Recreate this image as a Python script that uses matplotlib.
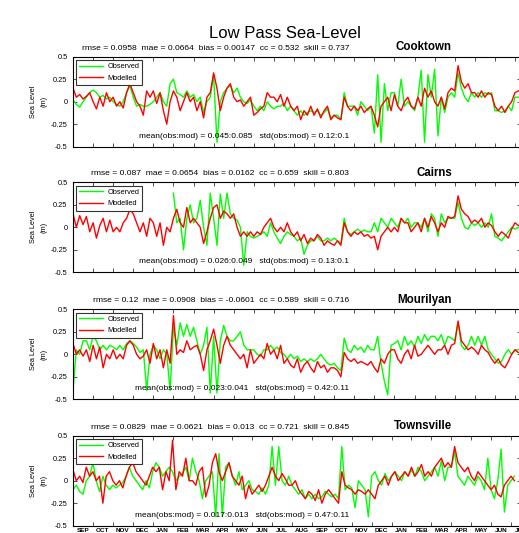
import numpy as np
import matplotlib
matplotlib.use('Agg')
import matplotlib.pyplot as plt

plt.rcParams['font.family'] = ['Liberation Sans', 'DejaVu Sans']

# month labels along the bottom axis (Sep of year 1 to Jul of year 2)
months = ['SEP', 'OCT', 'NOV', 'DEC', 'JAN', 'FEB', 'MAR', 'APR', 'MAY', 'JUN', 'JUL', 'AUG',
          'SEP', 'OCT', 'NOV', 'DEC', 'JAN', 'FEB', 'MAR', 'APR', 'MAY', 'JUN', 'JUL']
per_month = 6  # samples per month (~5 day spacing)

stations = ['Cooktown', 'Cairns', 'Mourilyan', 'Townsville']
stats = ['rmse = 0.0958  mae = 0.0664  bias = 0.00147  cc = 0.532  skill = 0.737',
         'rmse = 0.087  mae = 0.0654  bias = 0.0162  cc = 0.659  skill = 0.803',
         'rmse = 0.12  mae = 0.0908  bias = -0.0601  cc = 0.589  skill = 0.716',
         'rmse = 0.0829  mae = 0.0621  bias = 0.013  cc = 0.721  skill = 0.845']
means = ['mean(obs:mod) = 0.045:0.085   std(obs:mod) = 0.12:0.1',
         'mean(obs:mod) = 0.026:0.049   std(obs:mod) = 0.13:0.1',
         'mean(obs:mod) = 0.023:0.041   std(obs:mod) = 0.42:0.11',
         'mean(obs:mod) = 0.017:0.013   std(obs:mod) = 0.47:0.11']

nan = np.nan

cooktown_obs = [0.02, -0.03, -0.06, 0.0, 0.05, 0.1,
                0.13, 0.1, 0.05, 0.07, 0.03, 0.05,
                0.0, -0.03, -0.05, 0.0, 0.1, 0.18,
                0.05, -0.05, -0.03, -0.05, -0.05, -0.03,
                0.0, 0.05, 0.1, 0.0, -0.05, 0.2,
                0.25, 0.1, 0.08, 0.05, 0.12, 0.05,
                0.08, 0.0, 0.05, -0.12, 0.0, 0.05,
                0.3, -0.45, 0.0, 0.1, 0.15, 0.18,
                0.1, 0.15, 0.05, 0.0, -0.02, 0.02,
                -0.05, -0.1, -0.05, -0.1, 0.0, -0.05,
                -0.08, -0.05, -0.05, -0.02, -0.1, -0.05,
                -0.1, -0.15, -0.1, -0.15, -0.12, -0.1,
                -0.12, -0.1, -0.15, -0.12, -0.08, -0.18,
                -0.15, -0.15, -0.2, 0.1, -0.05, -0.05,
                -0.05, -0.15, 0.0, -0.05, -0.1, -0.05,
                -0.35, 0.3, -0.45, 0.2, -0.1, 0.1,
                0.1, -0.05, 0.25, -0.05, 0.0, -0.05,
                -0.1, 0.05, 0.35, -0.45, 0.3, 0.05,
                0.36, -0.38, 0.05, -0.12, 0.05, 0.1,
                0.05, 0.32, 0.15, 0.05, 0.0, 0.1,
                0.05, 0.1, 0.05, 0.1, 0.08, 0.1,
                -0.1, -0.1, -0.12, -0.1, -0.05, -0.1,
                0.05, 0.05]
cooktown_mod = [0.15, 0.05, 0.08, 0.03, 0.06, 0.1,
                0.0, -0.08, 0.05, -0.05, 0.1, 0.0,
                0.05, -0.05, 0.0, -0.07, 0.1, 0.2,
                0.1, 0.0, -0.05, -0.15, 0.12, 0.05,
                0.12, -0.02, 0.1, -0.1, -0.25, 0.0,
                0.12, 0.05, -0.1, 0.0, 0.1, 0.0,
                0.05, -0.1, 0.0, -0.18, 0.05, 0.1,
                0.32, 0.15, -0.1, 0.05, 0.15, 0.2,
                0.05, 0.0, 0.02, -0.05, 0.0, 0.05,
                -0.15, -0.12, -0.08, -0.05, 0.1, 0.05,
                0.05, 0.0, 0.08, -0.05, 0.05, -0.05,
                -0.1, -0.05, -0.2, -0.1, -0.15, -0.05,
                -0.15, -0.08, -0.18, -0.1, -0.05, -0.2,
                -0.15, -0.18, -0.2, 0.05, -0.05, -0.1,
                -0.05, -0.1, -0.05, -0.12, -0.08, -0.05,
                -0.15, -0.28, -0.05, 0.0, 0.05, -0.1,
                0.08, -0.05, -0.1, 0.0, 0.05, -0.05,
                -0.08, 0.05, -0.05, 0.15, 0.05, 0.12,
                0.0, -0.05, 0.05, -0.08, 0.1, 0.15,
                0.12, 0.4, 0.22, 0.15, 0.2, 0.1,
                0.1, 0.05, 0.12, 0.05, 0.1, 0.08,
                -0.05, -0.1, -0.05, -0.12, -0.05, 0.0,
                0.1, 0.12]

cairns_obs = [nan] * 30 + [
              0.38, 0.05, 0.1, -0.25, 0.1, 0.25,
              0.05, 0.1, 0.3, 0.0, -0.2, 0.38,
              0.1, -0.2, 0.37, 0.1, 0.38, 0.15,
              0.1, 0.08, 0.0, -0.42, -0.05, -0.1,
              -0.12, -0.1, -0.08, -0.05, -0.1, 0.05,
              -0.05, -0.12, -0.18, -0.1, -0.05, -0.08,
              -0.1, -0.15, -0.12, -0.3, -0.2, -0.15,
              -0.15, -0.1, -0.15, -0.15, -0.12, -0.15,
              -0.12, -0.15, -0.18, 0.1, -0.05, -0.08,
              -0.05, -0.02, -0.05, -0.03, -0.05, -0.05,
              0.05, -0.05, 0.1, 0.05, 0.0, 0.1,
              0.05, 0.0, 0.1, 0.05, 0.1, 0.0,
              0.05, 0.05, 0.0, 0.1, -0.05, 0.15,
              0.1, -0.1, 0.15, 0.05, 0.1, 0.1,
              0.1, 0.28, 0.1, 0.0, -0.02, 0.05,
              0.02, 0.05, 0.0, 0.05, 0.0, 0.15,
              -0.1, -0.12, -0.15, -0.1, -0.05, 0.0,
              -0.02, 0.0]
cairns_mod = [0.15, 0.0, 0.13, 0.03, 0.12, -0.05,
              0.05, -0.12, 0.02, 0.1, -0.05, 0.08,
              -0.05, 0.0, -0.05, 0.05, 0.1, 0.2,
              0.15, 0.05, -0.05, 0.05, -0.1, 0.1,
              0.05, -0.1, 0.05, -0.2, 0.0, -0.05,
              0.1, 0.2, 0.05, 0.0, 0.22, 0.05,
              0.1, 0.05, 0.0, -0.18, -0.05, 0.1,
              0.22, 0.25, 0.1, 0.18, 0.15, 0.1,
              0.15, 0.0, -0.1, -0.05, -0.1, -0.05,
              -0.1, -0.05, -0.08, 0.0, 0.05, 0.1,
              0.0, -0.05, 0.0, -0.05, 0.05, -0.05,
              -0.1, -0.05, -0.15, -0.08, -0.18, -0.12,
              -0.15, -0.08, -0.12, -0.2, -0.15, -0.18,
              -0.2, -0.15, -0.2, 0.05, -0.05, -0.1,
              -0.05, -0.08, -0.05, -0.1, -0.08, -0.12,
              -0.1, -0.25, -0.1, -0.05, 0.0, -0.05,
              0.0, -0.05, 0.1, 0.05, 0.05, -0.05,
              0.0, 0.05, -0.05, 0.1, 0.0, 0.12,
              0.05, -0.05, 0.05, 0.0, 0.12, 0.1,
              0.12, 0.35, 0.2, 0.15, 0.12, 0.05,
              0.08, 0.05, 0.1, 0.0, 0.05, 0.02,
              -0.05, -0.1, -0.05, -0.08, -0.12, -0.02,
              0.05, 0.02]

mourilyan_obs = [-0.4, 0.05, 0.0, 0.15, 0.15, 0.05,
                 0.2, 0.15, 0.05, 0.1, 0.05, 0.1,
                 0.08, 0.05, 0.1, 0.05, 0.12, 0.15,
                 0.12, 0.08, 0.02, 0.05, -0.4, 0.0,
                 0.1, 0.05, -0.05, 0.05, 0.0, -0.4,
                 0.3, 0.1, 0.35, 0.2, 0.33, 0.2,
                 0.3, 0.15, 0.0, 0.1, 0.3, -0.43,
                 0.2, -0.43, 0.15, 0.32, 0.2, 0.15,
                 0.15, 0.2, 0.25, 0.1, 0.05, 0.05,
                 0.05, 0.0, -0.02, 0.05, 0.05, 0.1,
                 0.05, 0.08, 0.02, 0.0, -0.05, 0.0,
                 -0.05, -0.02, -0.08, -0.05, -0.08, -0.05,
                 -0.08, -0.05, 0.0, -0.05, -0.1, -0.12,
                 -0.1, -0.15, -0.18, 0.18, 0.05, 0.02,
                 0.1, 0.05, 0.08, 0.02, 0.1, 0.05,
                 0.05, 0.2, -0.1, -0.3, -0.45, 0.1,
                 0.12, 0.15, 0.05, 0.2, 0.1, 0.15,
                 0.08, 0.2, 0.12, 0.22, 0.15, 0.2,
                 0.2, 0.15, 0.22, 0.1, 0.2, 0.18,
                 0.15, 0.35, 0.1, 0.05, 0.1, 0.2,
                 0.1, 0.2, 0.1, 0.2, 0.05, 0.0,
                 -0.05, -0.1, -0.08, 0.0, 0.05, 0.0,
                 0.05, 0.05]
mourilyan_mod = [0.12, 0.0, 0.05, -0.02, 0.05, -0.08,
                 0.1, -0.05, 0.08, -0.15, 0.0, -0.05,
                 0.05, -0.05, 0.0, -0.05, 0.1, 0.15,
                 0.1, 0.0, -0.05, -0.02, 0.05, -0.1,
                 0.12, -0.05, 0.05, -0.15, 0.05, -0.1,
                 0.43, 0.0, 0.05, 0.02, 0.15, 0.05,
                 0.08, 0.1, 0.0, -0.18, 0.05, 0.15,
                 0.28, 0.1, -0.1, 0.1, 0.2, 0.1,
                 0.05, 0.0, -0.05, 0.0, -0.15, 0.05,
                 -0.1, -0.05, 0.0, -0.05, 0.12, 0.0,
                 0.05, -0.05, 0.1, -0.1, -0.05, -0.12,
                 -0.15, -0.05, -0.2, -0.12, -0.08, -0.15,
                 -0.2, -0.08, -0.15, -0.12, -0.2, -0.15,
                 -0.15, -0.18, -0.25, 0.02, -0.05, -0.08,
                 -0.05, -0.1, -0.08, -0.1, -0.12, -0.08,
                 -0.15, -0.2, -0.05, -0.1, 0.0, 0.05,
                 0.05, -0.05, -0.1, 0.0, 0.05, -0.05,
                 0.1, -0.02, 0.0, 0.05, 0.1, 0.05,
                 0.0, 0.05, 0.05, 0.1, 0.0, 0.1,
                 0.12, 0.37, 0.15, 0.1, 0.05, 0.08,
                 0.05, 0.0, 0.1, 0.05, 0.02, -0.05,
                 -0.1, -0.05, -0.12, -0.15, -0.08, 0.0,
                 0.05, 0.02]

townsville_obs = [-0.1, -0.05, -0.12, -0.15, 0.0, 0.05,
                  0.2, 0.0, -0.12, 0.05, -0.05, -0.1,
                  -0.05, -0.08, -0.05, -0.02, 0.05, 0.15,
                  0.05, 0.0, -0.05, -0.1, 0.0, -0.08,
                  0.1, 0.2, 0.15, 0.05, 0.1, 0.15,
                  0.1, 0.0, 0.05, 0.08, 0.15, 0.0,
                  0.25, 0.1, 0.0, -0.2, 0.0, 0.05,
                  0.1, -0.4, 0.3, -0.4, 0.15, 0.2,
                  0.05, -0.05, 0.1, -0.1, -0.05, 0.0,
                  -0.1, -0.12, -0.15, -0.08, -0.15, -0.05,
                  0.38, -0.05, 0.38, 0.0, -0.05, 0.05,
                  -0.05, -0.1, -0.15, -0.1, -0.2, -0.15,
                  -0.2, -0.15, -0.2, -0.18, -0.12, -0.15,
                  -0.18, -0.15, -0.2, 0.38, -0.1, -0.05,
                  -0.08, -0.3, 0.0, -0.05, -0.1, -0.4,
                  0.05, 0.1, 0.0, -0.05, 0.08, 0.0,
                  0.05, 0.1, 0.05, 0.0, 0.1, 0.05,
                  0.12, 0.05, 0.15, 0.1, 0.0, 0.05,
                  0.1, 0.15, 0.05, 0.22, 0.0, 0.15,
                  0.15, 0.32, 0.05, 0.0, -0.05, 0.05,
                  0.0, -0.05, 0.05, 0.0, -0.1, 0.25,
                  -0.1, -0.2, 0.0, 0.35, -0.35, -0.05,
                  0.0, 0.05]
townsville_mod = [0.12, 0.0, 0.05, -0.02, 0.15, 0.05,
                  0.1, 0.0, 0.05, -0.25, 0.05, 0.1,
                  0.0, -0.05, 0.0, -0.08, 0.05, 0.15,
                  0.2, 0.1, 0.05, 0.0, -0.05, 0.05,
                  0.15, 0.1, 0.15, -0.1, 0.1, 0.0,
                  0.45, -0.1, 0.1, 0.05, 0.25, 0.0,
                  0.0, -0.05, 0.1, 0.15, -0.18, -0.05,
                  0.2, 0.3, 0.1, 0.0, 0.1, 0.2,
                  0.05, 0.0, -0.05, 0.05, -0.2, -0.05,
                  -0.15, -0.1, -0.05, -0.12, -0.05, 0.05,
                  0.15, 0.05, 0.0, 0.08, 0.02, -0.05,
                  -0.05, 0.0, -0.1, -0.15, -0.2, -0.12,
                  -0.15, -0.22, -0.1, -0.25, -0.15, -0.1,
                  -0.15, -0.2, -0.25, 0.1, -0.05, -0.08,
                  -0.1, -0.15, -0.1, -0.12, -0.15, -0.1,
                  -0.15, -0.2, -0.05, 0.0, 0.05, -0.05,
                  0.05, 0.1, 0.0, 0.05, 0.1, 0.05,
                  0.15, 0.05, 0.1, 0.18, 0.05, 0.1,
                  0.05, 0.15, 0.2, 0.25, 0.15, 0.2,
                  0.15, 0.38, 0.2, 0.15, 0.1, 0.15,
                  0.05, 0.0, 0.1, 0.05, 0.0, -0.05,
                  -0.1, -0.05, -0.15, -0.18, -0.05, 0.0,
                  0.05, 0.0]

obs_all = [cooktown_obs, cairns_obs, mourilyan_obs, townsville_obs]
mod_all = [cooktown_mod, cairns_mod, mourilyan_mod, townsville_mod]

W, H = 519, 533
fig = plt.figure(figsize=(W / 100, H / 100), dpi=100)

fig.text(285 / W, 1 - 33 / H, 'Low Pass Sea-Level', ha='center', va='center', fontsize=12)

tops = [56.7, 182.3, 309.3, 435.7]
ax_h = 90
ax_w = 448
left = 73

for i in range(4):
    bottom = 1 - (tops[i] + ax_h) / H
    ax = fig.add_axes([left / W, bottom, ax_w / W, ax_h / H])
    obs = np.array(obs_all[i], dtype=float)
    mod = np.array(mod_all[i], dtype=float)
    t = np.arange(len(mod)) / per_month
    ax.plot(t, obs, color='#00ff00', lw=1.0, label='Observed')
    ax.plot(t, mod, color='#ff0000', lw=1.0, label='Modelled')

    ax.set_xlim(0, 22.3)
    ax.set_ylim(-0.5, 0.5)
    ax.set_yticks([-0.5, -0.25, 0, 0.25, 0.5])
    ax.set_yticklabels(['-0.5', '-0.25', '0', '0.25', '0.5'])
    ax.set_xticks(np.arange(0, 23))
    ax.tick_params(axis='both', which='major', direction='in', length=3, width=0.6,
                   color='#333333', top=True, right=True, labelsize=5.3, pad=4)
    ax.tick_params(axis='x', which='major', labelbottom=False)
    if i == 3:
        ax.set_xticks(np.arange(23) + 0.5, months, minor=True)
        ax.tick_params(axis='x', which='minor', length=0, labelsize=4.6, pad=1.5)
        for lab in ax.get_xticklabels(minor=True):
            lab.set_fontweight('bold')
    for sp in ax.spines.values():
        sp.set_linewidth(0.8)

    ax.set_ylabel('Sea Level\n(m)', fontsize=5.3, linespacing=1.8)
    ax.yaxis.set_label_coords((48 - left) / ax_w, 0.5)

    ax.text((349 - left) / ax_w, 1 + 8.5 / ax_h, stats[i], transform=ax.transAxes,
            ha='right', va='center', fontsize=6.1)
    ax.text((452 - left) / ax_w, 1 + 9.5 / ax_h, stations[i], transform=ax.transAxes,
            ha='right', va='center', fontsize=8.3, fontweight='bold')
    ax.text((349 - left) / ax_w, 10.7 / ax_h, means[i], transform=ax.transAxes,
            ha='right', va='center', fontsize=6.0)

    leg = ax.legend(loc='upper left', bbox_to_anchor=(3 / ax_w, 1 - 3.3 / ax_h),
                    borderaxespad=0, fontsize=5.3, handlelength=3.2, handletextpad=0.6,
                    borderpad=0.45, labelspacing=0.55, fancybox=False, framealpha=1)
    leg.get_frame().set_edgecolor('#333333')
    leg.get_frame().set_linewidth(0.8)

plt.savefig('out.png', dpi=100)
